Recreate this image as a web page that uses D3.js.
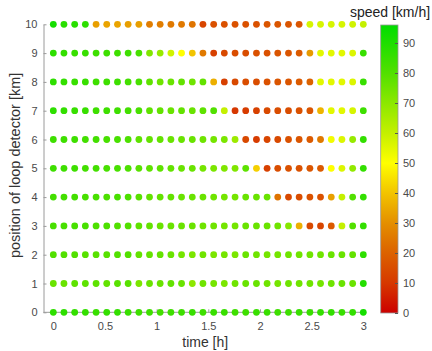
<!DOCTYPE html>
<html>
<head>
<meta charset="utf-8">
<script src="https://cdn.jsdelivr.net/npm/d3@7"></script>
<style>
  html, body { margin: 0; padding: 0; background: #fff; }
  svg { display: block; font-family: "Liberation Sans", Arial, sans-serif; }
</style>
</head>
<body>
<svg id="chart" width="432" height="351"></svg>
<script>
// Detector positions along the road [km]
const positions = [0, 1, 2, 3, 4, 5, 6, 7, 8, 9, 10];

// Measurement times [h], 30 samples over three hours
const times = [0.000, 0.103, 0.207, 0.310, 0.414, 0.517, 0.621, 0.724, 0.828, 0.931,
               1.034, 1.138, 1.241, 1.345, 1.448, 1.552, 1.655, 1.759, 1.862, 1.966,
               2.069, 2.172, 2.276, 2.379, 2.483, 2.586, 2.690, 2.793, 2.897, 3.000];

// Measured speed [km/h] per detector, one entry per time sample
const speed0  = [87,87,86,86,85,86,86,85,84,84,83,84,84,85,84,85,85,84,84,85,85,84,84,85,85,86,86,85,86,92];
const speed1  = [76,76,78,78,78,77,79,79,73,76,76,77,76,70,75,74,73,75,76,76,75,74,75,75,75,74,75,76,76,89];
const speed2  = [80,80,80,79,79,79,80,80,77,77,77,76,74,73,75,73,74,73,76,75,74,74,75,75,75,75,76,76,77,87];
const speed3  = [82,82,82,82,81,81,80,80,78,77,76,76,76,76,75,75,74,74,76,76,76,75,71,36,14,13,18,60,80,86];
const speed4  = [83,83,83,82,82,81,82,81,79,77,77,77,76,76,76,75,74,74,76,76,76,24,14,15,16,16,33,60,80,86];
const speed5  = [84,84,84,83,83,82,82,81,79,78,78,77,76,76,74,73,72,72,78,42,12,15,16,16,17,18,50,56,69,86];
const speed6  = [84,84,84,83,83,82,82,81,78,77,77,76,76,76,75,74,73,67,14,11,13,14,16,17,18,25,52,56,68,86];
const speed7  = [87,86,85,85,84,84,84,83,82,78,77,76,77,76,78,80,60,10,11,12,14,15,15,16,17,37,55,55,57,84];
const speed8  = [87,86,85,85,84,84,84,83,82,78,75,76,77,75,77,36,12,14,15,15,16,17,17,18,20,55,55,55,56,85];
const speed9  = [87,86,85,85,84,84,84,84,82,72,68,58,50,40,25,12,14,15,15,16,16,17,17,18,32,55,55,55,56,85];
const speed10 = [92,88,88,87,33,34,34,33,33,26,26,25,25,24,13,16,16,16,16,16,17,17,17,17,57,57,57,57,58,60];
const speeds = [speed0, speed1, speed2, speed3, speed4, speed5, speed6, speed7, speed8, speed9, speed10];

// Axis ticks
const xTicks = [0, 0.5, 1, 1.5, 2, 2.5, 3];
const yTicks = [0, 1, 2, 3, 4, 5, 6, 7, 8, 9, 10];
const cTicks = [0, 10, 20, 30, 40, 50, 60, 70, 80, 90];

// Red → yellow → green speed colormap
const cStops  = [0, 10, 20, 30, 40, 50, 60, 70, 80, 96];
const cColors = ["#cc0000", "#d63800", "#dc6200", "#e48f00", "#f2c400",
                 "#ffff00", "#c4f000", "#8ce800", "#52e000", "#00dd00"];
const speedMax = 96;

const svg = d3.select("#chart");

const x = d3.scaleLinear().domain([-0.095, 3]).range([43.5, 363.3]);
const y = d3.scaleLinear().domain([0, 10]).range([312.3, 24.3]);
const color = d3.scaleLinear().domain(cStops).range(cColors)
  .interpolate(d3.interpolateRgb).clamp(true);

const axisColor = "#9a9a9a";
const labelColor = "#4a4a4a";

// Axes (ticks point inwards)
const gx = svg.append("g")
  .attr("transform", `translate(0,${y(0)})`)
  .call(d3.axisBottom(x).tickValues(xTicks).tickFormat(d3.format("")).tickSizeInner(-3).tickSizeOuter(0).tickPadding(10));
const gy = svg.append("g")
  .attr("transform", `translate(${x.range()[0]},0)`)
  .call(d3.axisLeft(y).tickValues(yTicks).tickSizeInner(-3).tickSizeOuter(0).tickPadding(6));
[gx, gy].forEach(g => {
  g.select(".domain").attr("stroke", axisColor).attr("stroke-width", 1);
  g.selectAll(".tick line").attr("stroke", axisColor);
  g.selectAll(".tick text").attr("fill", labelColor).style("font-size", "11px")
    .style("font-family", "'Liberation Sans', Arial, sans-serif");
});
gx.select(".domain").attr("d", `M${x.range()[0]},0H${x(3) + 2}`);

// Detector dots
const cells = [];
speeds.forEach((row, i) => row.forEach((v, j) => cells.push({ t: times[j], p: positions[i], v })));
svg.append("g").selectAll("circle")
  .data(cells)
  .join("circle")
  .attr("cx", d => x(d.t))
  .attr("cy", d => y(d.p))
  .attr("r", 3.4)
  .attr("fill", d => color(d.v));

// Axis titles
svg.append("text")
  .attr("x", x(1.47)).attr("y", 347)
  .attr("text-anchor", "middle")
  .attr("fill", "#333")
  .style("font-size", "14px")
  .text("time [h]");
svg.append("text")
  .attr("transform", `translate(20,${y(5.1)}) rotate(-90)`)
  .attr("text-anchor", "middle")
  .attr("fill", "#333")
  .style("font-size", "14.5px")
  .text("position of loop detector [km]");

// Colorbar
const cb = { x: 380.7, w: 17.3, top: 25, bottom: 313 };
const cy = d3.scaleLinear().domain([0, speedMax]).range([cb.bottom, cb.top]);
const defs = svg.append("defs");
const grad = defs.append("linearGradient").attr("id", "speedGrad")
  .attr("x1", 0).attr("y1", 1).attr("x2", 0).attr("y2", 0);
cStops.forEach((s, i) => grad.append("stop")
  .attr("offset", s / speedMax).attr("stop-color", cColors[i]));
svg.append("rect")
  .attr("x", cb.x).attr("y", cb.top)
  .attr("width", cb.w).attr("height", cb.bottom - cb.top)
  .attr("fill", "url(#speedGrad)")
  .attr("stroke", axisColor).attr("stroke-width", 0.8);
const gc = svg.append("g")
  .attr("transform", `translate(${cb.x + cb.w},0)`)
  .call(d3.axisRight(cy).tickValues(cTicks).tickSizeInner(-3).tickSizeOuter(0).tickPadding(5));
gc.select(".domain").remove();
gc.selectAll(".tick line").attr("stroke", "#555");
gc.selectAll(".tick text").attr("fill", labelColor).style("font-size", "11px")
  .style("font-family", "'Liberation Sans', Arial, sans-serif");
svg.append("text")
  .attr("x", 390).attr("y", 17)
  .attr("text-anchor", "middle")
  .attr("fill", "#222")
  .style("font-size", "14px")
  .text("speed [km/h]");
</script>
</body>
</html>
